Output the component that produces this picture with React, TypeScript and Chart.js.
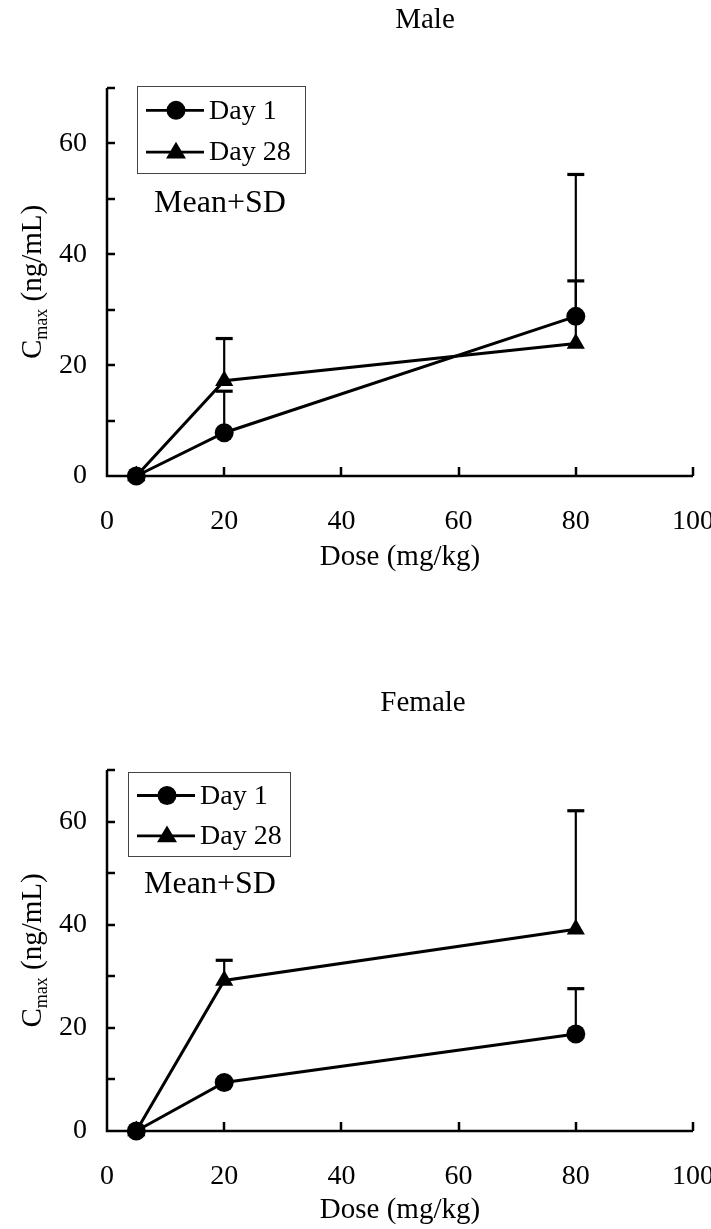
import React, { useEffect, useRef } from "react";
import { Chart, registerables } from "chart.js";
Chart.register(...registerables);

// ---- data ----
const doses = [5, 20, 80];
const seriesLabels = ["Day 1", "Day 28"];
const xTickValues = [0, 20, 40, 60, 80, 100];
const yLabelStep = 20;
const yMinorStep = 10;
const yMax = 70;
const xMax = 100;

const maleDay1 = [0, 7.8, 28.8];
const maleDay1SD = [0, 7.5, 25.6];
const maleDay28 = [0, 17.2, 23.9];
const maleDay28SD = [0, 7.6, 11.3];

const femaleDay1 = [0, 9.4, 18.8];
const femaleDay1SD = [0, 0, 8.8];
const femaleDay28 = [0, 29.2, 39.1];
const femaleDay28SD = [0, 3.9, 23.0];

const FONT = "'Liberation Serif', 'Times New Roman', serif";

type Panel = {
  title: string;
  means: number[][];
  sds: number[][];
  height: number;
  areaTop: number;
  areaBottom: number;
  titleX: number;
  titleY: number;
  legendBox: { x: number; y: number; w: number; h: number };
  noteX: number;
  noteY: number;
  yTitleX: number;
  xTitleY: number;
};

const AREA_LEFT = 107;
const AREA_RIGHT = 693;
const WIDTH = 711;

const panels: Panel[] = [
  {
    title: "Male",
    means: [maleDay1, maleDay28],
    sds: [maleDay1SD, maleDay28SD],
    height: 614,
    areaTop: 88,
    areaBottom: 476,
    titleX: 425,
    titleY: 20,
    legendBox: { x: 137, y: 86, w: 168, h: 87 },
    noteX: 220,
    noteY: 204,
    yTitleX: 31,
    xTitleY: 557,
  },
  {
    title: "Female",
    means: [femaleDay1, femaleDay28],
    sds: [femaleDay1SD, femaleDay28SD],
    height: 615,
    areaTop: 156,
    areaBottom: 517,
    titleX: 423,
    titleY: 89,
    legendBox: { x: 128, y: 158, w: 162, h: 84 },
    noteX: 210,
    noteY: 271,
    yTitleX: 31,
    xTitleY: 596,
  },
];

const pointStyles = ["circle", "triangle"] as const;
const pointRadii = [9.5, 10.5];

function drawMarker(ctx: CanvasRenderingContext2D, style: string, x: number, y: number, r: number) {
  ctx.beginPath();
  if (style === "circle") {
    ctx.arc(x, y, r, 0, Math.PI * 2);
  } else {
    const h = r * 1.6;
    ctx.moveTo(x, y - h * 0.62);
    ctx.lineTo(x + r * 0.95, y + h * 0.38);
    ctx.lineTo(x - r * 0.95, y + h * 0.38);
    ctx.closePath();
  }
  ctx.fill();
}

function ChartPanel({ panel }: { panel: Panel }) {
  const ref = useRef<HTMLCanvasElement | null>(null);
  useEffect(() => {
    const canvas = ref.current;
    if (!canvas) return;

    const decor = {
      id: "decor",
      beforeDatasetsDraw(chart: any) {
        const ctx = chart.ctx as CanvasRenderingContext2D;
        const xs = chart.scales.x;
        const ys = chart.scales.y;
        const area = chart.chartArea;
        ctx.save();
        ctx.strokeStyle = "#000";
        ctx.fillStyle = "#000";
        // axes
        ctx.lineWidth = 2.5;
        ctx.beginPath();
        ctx.moveTo(area.left, ys.getPixelForValue(yMax));
        ctx.lineTo(area.left, area.bottom);
        ctx.lineTo(xs.getPixelForValue(xMax), area.bottom);
        ctx.stroke();
        // y ticks (inward)
        for (let v = yMinorStep; v <= yMax; v += yMinorStep) {
          const y = Math.round(ys.getPixelForValue(v));
          ctx.beginPath();
          ctx.moveTo(area.left, y);
          ctx.lineTo(area.left + 8, y);
          ctx.stroke();
        }
        // x ticks (inward)
        for (const v of xTickValues) {
          if (v === 0) continue;
          const x = Math.round(xs.getPixelForValue(v));
          ctx.beginPath();
          ctx.moveTo(x, area.bottom);
          ctx.lineTo(x, area.bottom - 9);
          ctx.stroke();
        }
        // error bars (mean + SD)
        panel.means.forEach((m, i) => {
          m.forEach((mean, j) => {
            const sd = panel.sds[i][j];
            if (!sd) return;
            const x = xs.getPixelForValue(doses[j]);
            const y0 = ys.getPixelForValue(mean);
            const y1 = ys.getPixelForValue(mean + sd);
            ctx.lineWidth = 2.2;
            ctx.beginPath();
            ctx.moveTo(x, y0);
            ctx.lineTo(x, y1);
            ctx.stroke();
            ctx.lineWidth = 3.2;
            ctx.beginPath();
            ctx.moveTo(x - 8.5, y1);
            ctx.lineTo(x + 8.5, y1);
            ctx.stroke();
          });
        });
        ctx.restore();
      },
      afterDraw(chart: any) {
        const ctx = chart.ctx as CanvasRenderingContext2D;
        const area = chart.chartArea;
        ctx.save();
        ctx.fillStyle = "#000";
        ctx.strokeStyle = "#000";
        // title
        ctx.font = `29px ${FONT}`;
        ctx.textAlign = "center";
        ctx.textBaseline = "middle";
        ctx.fillText(panel.title, panel.titleX, panel.titleY);
        // x title
        ctx.fillText("Dose (mg/kg)", (area.left + area.right) / 2, panel.xTitleY);
        // y title with subscript
        ctx.save();
        ctx.translate(panel.yTitleX, (area.top + area.bottom) / 2);
        ctx.rotate(-Math.PI / 2);
        const big = `29px ${FONT}`;
        const small = `18px ${FONT}`;
        ctx.font = big;
        const wC = ctx.measureText("C").width;
        const wRest = ctx.measureText(" (ng/mL)").width;
        ctx.font = small;
        const wSub = ctx.measureText("max").width;
        let tx = -(wC + wSub + wRest) / 2;
        ctx.textAlign = "left";
        ctx.textBaseline = "alphabetic";
        ctx.font = big;
        ctx.fillText("C", tx, 10);
        tx += wC;
        ctx.font = small;
        ctx.fillText("max", tx, 16);
        tx += wSub;
        ctx.font = big;
        ctx.fillText(" (ng/mL)", tx, 10);
        ctx.restore();
        // legend
        const lb = panel.legendBox;
        ctx.lineWidth = 1;
        ctx.strokeStyle = "#444";
        ctx.strokeRect(lb.x + 0.5, lb.y + 0.5, lb.w, lb.h);
        ctx.strokeStyle = "#000";
        seriesLabels.forEach((label, i) => {
          const cy = lb.y + lb.h * (i === 0 ? 0.28 : 0.76);
          const lx0 = lb.x + 9;
          const lx1 = lb.x + 67;
          ctx.lineWidth = 2.8;
          ctx.beginPath();
          ctx.moveTo(lx0, cy);
          ctx.lineTo(lx1, cy);
          ctx.stroke();
          drawMarker(ctx, pointStyles[i], (lx0 + lx1) / 2 + 1, cy, pointRadii[i]);
          ctx.font = `28px ${FONT}`;
          ctx.textAlign = "left";
          ctx.textBaseline = "middle";
          ctx.fillText(label, lx1 + 5, cy + 1);
        });
        // note
        ctx.font = `32px ${FONT}`;
        ctx.textAlign = "center";
        ctx.textBaseline = "middle";
        ctx.fillText("Mean+SD", panel.noteX, panel.noteY);
        ctx.restore();
      },
    };

    const chart = new Chart(canvas, {
      type: "line",
      data: {
        datasets: panel.means.map((m, i) => ({
          label: seriesLabels[i],
          data: m.map((v, j) => ({ x: doses[j], y: v })),
          borderColor: "#000",
          backgroundColor: "#000",
          borderWidth: 3,
          pointStyle: pointStyles[i],
          pointRadius: pointRadii[i],
          pointBorderWidth: 0,
          tension: 0,
          clip: false as any,
        })),
      },
      options: {
        animation: false,
        responsive: false,
        devicePixelRatio: 1,
        layout: { padding: { left: 0, right: WIDTH - AREA_RIGHT, top: panel.areaTop, bottom: 0 } },
        plugins: { legend: { display: false }, title: { display: false }, tooltip: { enabled: false } },
        scales: {
          x: {
            type: "linear",
            min: 0,
            max: xMax,
            grid: { display: false, drawTicks: false },
            border: { display: false },
            ticks: {
              stepSize: 20,
              padding: 29,
              color: "#000",
              font: { family: FONT, size: 28 },
              maxRotation: 0,
            },
            afterFit: (s: any) => {
              s.height = panel.height - panel.areaBottom;
              s.paddingLeft = 0;
              s.paddingRight = 0;
            },
          },
          y: {
            type: "linear",
            min: 0,
            max: yMax,
            grid: { display: false, drawTicks: false },
            border: { display: false },
            ticks: {
              stepSize: yMinorStep,
              padding: 20,
              color: "#000",
              font: { family: FONT, size: 28 },
              callback: (v: any) => (Number(v) % yLabelStep === 0 ? String(v) : ""),
            },
            afterFit: (s: any) => {
              s.width = AREA_LEFT;
              s.paddingTop = 0;
              s.paddingBottom = 0;
            },
          },
        },
      },
      plugins: [decor],
    });
    return () => chart.destroy();
  }, [panel]);
  return <canvas ref={ref} width={WIDTH} height={panel.height} style={{ display: "block", width: WIDTH, height: panel.height }} />;
}

export default function App() {
  return (
    <div style={{ position: "absolute", left: 0, top: 0, width: WIDTH, background: "#fff" }}>
      {panels.map((p) => (
        <ChartPanel key={p.title} panel={p} />
      ))}
    </div>
  );
}
